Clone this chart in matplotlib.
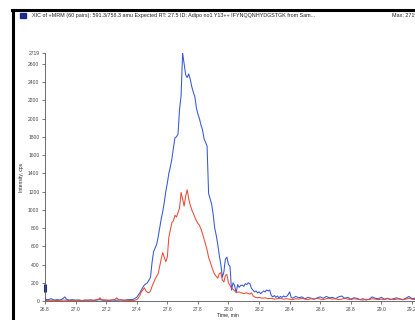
import matplotlib
matplotlib.use("Agg")
import matplotlib.pyplot as plt
from matplotlib.patches import Rectangle
from matplotlib.lines import Line2D

# ---------------- data ----------------
title_text = ("XIC of +MRM (60 pairs): 591.3/758.3 amu Expected RT: 27.5 ID: Adipo no1 Y13++ "
              "IFYNQQNHYDGSTGK from Sam...")
max_text = "Max: 2719.0 cps."
x_label = "Time, min"
y_label = "Intensity, cps"
x_ticks = [26.8, 27.0, 27.2, 27.4, 27.6, 27.8, 28.0, 28.2, 28.4, 28.6, 28.8, 29.0, 29.2]
y_ticks = [0, 200, 400, 600, 800, 1000, 1200, 1400, 1600, 1800, 2000, 2200, 2400, 2600, 2719]
x_range = [26.8, 29.22]
y_max = 2719

blue_t = [26.80, 26.82, 26.84, 26.86, 26.88, 26.90, 26.92, 26.93, 26.94, 26.96, 26.98,
          27.00, 27.02, 27.04, 27.06, 27.08, 27.10, 27.12, 27.14, 27.16, 27.18, 27.20,
          27.22, 27.24, 27.26, 27.28, 27.30, 27.32, 27.34, 27.36, 27.38, 27.40, 27.42,
          27.44, 27.45, 27.47, 27.49, 27.50, 27.51, 27.52, 27.53, 27.54, 27.55, 27.56,
          27.57, 27.58, 27.59, 27.60, 27.61, 27.62, 27.63, 27.64, 27.65, 27.66, 27.67,
          27.68, 27.69, 27.70, 27.71, 27.72, 27.73, 27.74, 27.75, 27.76, 27.77, 27.78,
          27.79, 27.80, 27.81, 27.82, 27.83, 27.84, 27.85, 27.86, 27.87, 27.88, 27.89,
          27.90, 27.91, 27.92, 27.93, 27.94, 27.95, 27.96, 27.97, 27.98, 27.99, 28.00,
          28.01, 28.02, 28.03, 28.04, 28.05, 28.06, 28.07, 28.08, 28.09, 28.10, 28.11,
          28.12, 28.13, 28.14, 28.15, 28.16, 28.17, 28.18, 28.19, 28.20, 28.21, 28.22,
          28.23, 28.24, 28.25, 28.26, 28.27, 28.28, 28.29, 28.30, 28.31, 28.32, 28.33,
          28.34, 28.35, 28.36, 28.37, 28.38, 28.39, 28.40, 28.41, 28.42, 28.44, 28.46,
          28.48, 28.50, 28.52, 28.54, 28.56, 28.58, 28.60, 28.62, 28.64, 28.66, 28.68,
          28.70, 28.72, 28.74, 28.76, 28.78, 28.80, 28.82, 28.84, 28.86, 28.88, 28.90,
          28.92, 28.94, 28.96, 28.98, 29.00, 29.02, 29.04, 29.06, 29.08, 29.10, 29.12,
          29.14, 29.16, 29.18, 29.20, 29.22]
blue_v = [20, 15, 25, 10, 15, 10, 30, 45, 20, 10, 15,
          8, 12, 5, 10, 8, 12, 6, 10, 15, 8, 10,
          5, 12, 8, 10, 12, 8, 15, 15, 20, 40, 90,
          150, 175, 200, 260, 420, 540, 580, 620, 700, 800, 900,
          980, 1080, 1200, 1290, 1400, 1470, 1560, 1680, 1790, 1800, 1830,
          2100, 2250, 2719, 2600, 2480, 2450, 2490, 2430, 2350, 2290, 2240,
          2120, 2050, 2000, 1930, 1880, 1780, 1740, 1700, 1180, 1120, 1060,
          950, 800, 720, 620, 500, 400, 260, 320, 460, 480, 400,
          380, 120, 200, 170, 90, 180, 150, 170, 175, 160, 190,
          180, 200, 190, 140, 120, 100, 110, 90, 100, 80, 95,
          110, 100, 120, 110, 120, 60, 45, 60, 40, 55, 35,
          50, 40, 55, 45, 50, 70, 100, 40, 30, 50, 35,
          45, 25, 40, 30, 20, 35, 45, 30, 50, 35, 40,
          25, 45, 55, 30, 40, 20, 35, 30, 15, 25, 10,
          20, 45, 30, 25, 40, 20, 30, 15, 25, 35, 20,
          15, 30, 50, 25, 30]

red_t = [26.80, 26.84, 26.88, 26.92, 26.96, 27.00, 27.04, 27.08, 27.12, 27.15, 27.16,
         27.17, 27.20, 27.24, 27.26, 27.27, 27.28, 27.32, 27.36, 27.38, 27.40, 27.41,
         27.42, 27.43, 27.44, 27.45, 27.46, 27.47, 27.48, 27.49, 27.50, 27.51, 27.52,
         27.53, 27.54, 27.55, 27.56, 27.57, 27.58, 27.59, 27.60, 27.61, 27.62, 27.63,
         27.64, 27.65, 27.66, 27.67, 27.68, 27.69, 27.70, 27.71, 27.72, 27.73, 27.74,
         27.75, 27.76, 27.77, 27.78, 27.79, 27.80, 27.81, 27.82, 27.83, 27.84, 27.85,
         27.86, 27.87, 27.88, 27.89, 27.90, 27.91, 27.92, 27.93, 27.94, 27.95, 27.96,
         27.97, 27.98, 27.99, 28.00, 28.01, 28.02, 28.03, 28.04, 28.05, 28.06, 28.07,
         28.08, 28.09, 28.10, 28.11, 28.12, 28.13, 28.14, 28.15, 28.16, 28.17, 28.18,
         28.19, 28.20, 28.22, 28.24, 28.26, 28.28, 28.30, 28.32, 28.34, 28.36, 28.38,
         28.40, 28.42, 28.44, 28.46, 28.48, 28.50, 28.52, 28.54, 28.56, 28.58, 28.60,
         28.62, 28.64, 28.66, 28.68, 28.70, 28.72, 28.74, 28.76, 28.78, 28.80, 28.82,
         28.84, 28.86, 28.88, 28.90, 28.92, 28.94, 28.96, 28.98, 29.00, 29.02, 29.04,
         29.06, 29.08, 29.10, 29.12, 29.14, 29.16, 29.18, 29.20, 29.22]
red_v = [5, 8, 5, 10, 5, 8, 5, 10, 8, 20, 35,
         15, 8, 10, 20, 35, 15, 8, 5, 5, 15, 30,
         60, 100, 120, 145, 110, 95, 90, 110, 160, 200, 240,
         270, 300, 380, 460, 530, 480, 430, 480, 700, 780, 860,
         880, 940, 920, 970, 1020, 1190, 1120, 1040, 1150, 1220, 1120,
         1050, 1000, 960, 920, 880, 850, 830, 790, 740, 680, 620,
         560, 480, 430, 380, 330, 290, 270, 250, 300, 310, 230,
         210, 280, 290, 200, 170, 140, 130, 110, 100, 95, 100,
         90, 88, 80, 85, 90, 80, 75, 90, 60, 44, 40,
         35, 40, 30, 35, 25, 30, 20, 25, 30, 20, 25,
         20, 15, 25, 20, 30, 20, 15, 25, 20, 30, 20,
         15, 25, 30, 20, 25, 15, 20, 30, 20, 15, 25,
         20, 15, 10, 20, 15, 25, 20, 15, 20, 15, 25,
         20, 15, 20, 25, 15, 20, 30, 20, 15]

baseline_marker = [100, 190]

# ---------------- figure ----------------
W, H = 415, 320
fig = plt.figure(figsize=(W / 100, H / 100), dpi=100)
fig.patch.set_facecolor("white")
FONT = ["Liberation Sans", "DejaVu Sans"]
fs = 3.6

# window frame (thick black top & left border)
fig.add_artist(Line2D([12 / W, 1.0], [1 - 10 / H, 1 - 10 / H], color="black", lw=2.2,
                      transform=fig.transFigure))
fig.add_artist(Line2D([13 / W, 13 / W], [0, 1 - 10 / H], color="black", lw=2.2,
                      transform=fig.transFigure))
# small legend icon
fig.add_artist(Rectangle((20 / W, 1 - 17.5 / H), 6 / W, 5 / H, facecolor="#1c2a8a",
                         edgecolor="#1c2a8a", transform=fig.transFigure))
fig.text(32 / W, 1 - 15 / H, title_text, fontsize=3.85, family=FONT, va="center", ha="left",
         color="#222222")
fig.text(392 / W, 1 - 15 / H, max_text, fontsize=3.85, family=FONT, va="center", ha="left",
         color="#222222")

ax = fig.add_axes([45 / W, 1 - 301 / H, 1 - 45 / W, (301 - 53) / H])
ax.plot(blue_t, blue_v, color="#3557d4", lw=0.75)
ax.plot(red_t, red_v, color="#ec4a36", lw=0.75)
ax.plot([x_range[0], x_range[0]], baseline_marker, color="#1c2a8a", lw=2.2, clip_on=False,
        solid_capstyle="butt")

ax.set_xlim(*x_range)
ax.set_ylim(0, y_max)
ax.set_xticks(x_ticks)
ax.set_xticklabels([f"{t:.1f}" for t in x_ticks], fontsize=fs, family=FONT, color="#222222")
ax.set_yticks(y_ticks)
ax.set_yticklabels([str(v) for v in y_ticks], fontsize=fs, family=FONT, color="#222222")
ax.tick_params(axis="both", length=2.5, width=0.5, pad=1.5, colors="#444444")
for s in ["top", "right"]:
    ax.spines[s].set_visible(False)
for s in ["left", "bottom"]:
    ax.spines[s].set_linewidth(0.6)
    ax.spines[s].set_color("#555555")
ax.set_facecolor("white")

fig.text(228 / W, 1 - 315 / H, x_label, fontsize=fs, family=FONT, ha="center", va="center",
         color="#222222")
fig.text(21 / W, 1 - 177 / H, y_label, fontsize=fs, family=FONT, ha="center", va="center",
         rotation=90, color="#222222")

fig.savefig("out.png", dpi=100)
